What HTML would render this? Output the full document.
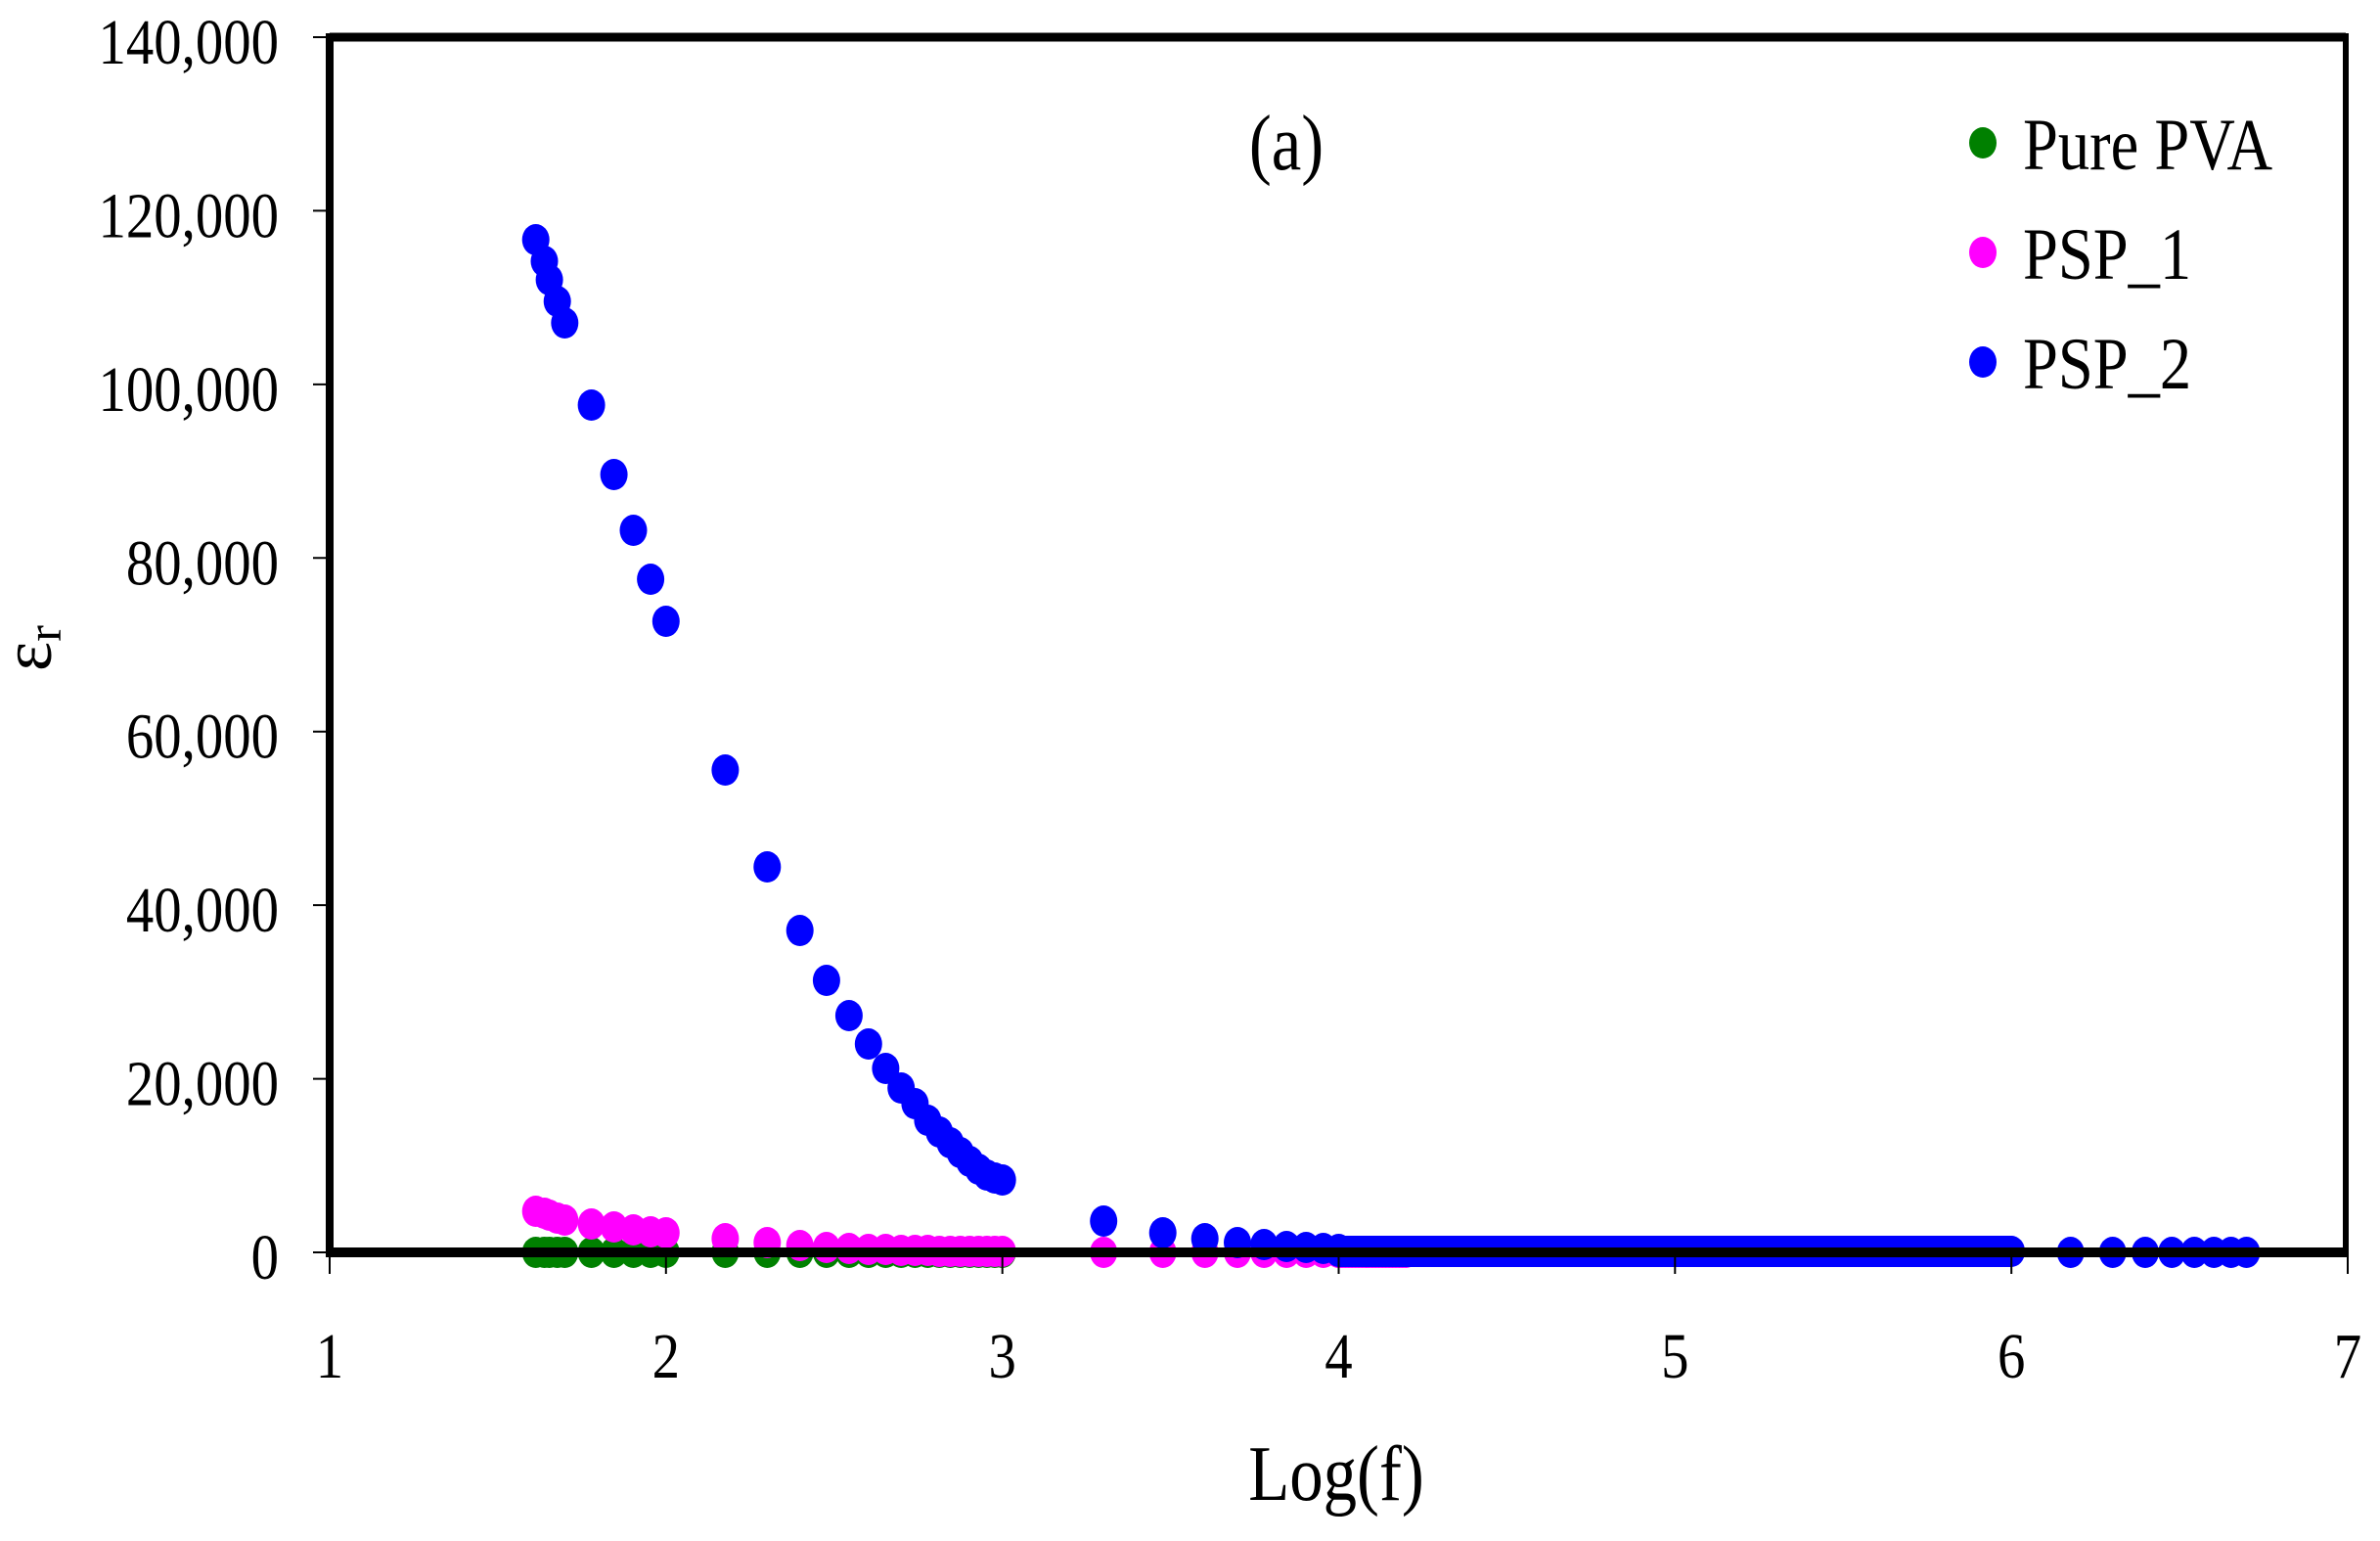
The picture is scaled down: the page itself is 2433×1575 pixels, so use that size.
<!DOCTYPE html>
<html><head><meta charset="utf-8"><style>
html,body{margin:0;padding:0;background:#fff;}
svg{display:block;}
text{font-family:"Liberation Serif","DejaVu Serif",serif;fill:#000;}
</style></head><body>
<svg id="s" width="2433" height="1575" viewBox="0 0 2433 1575" xmlns="http://www.w3.org/2000/svg">
<rect width="2433" height="1575" fill="#fff"/>
<g id="pts"></g>
<line x1="337" y1="38" x2="2398" y2="38" stroke="#000" stroke-width="9"/>
<line x1="337" y1="34" x2="337" y2="1285" stroke="#000" stroke-width="8"/>
<line x1="2398" y1="34" x2="2398" y2="1285" stroke="#000" stroke-width="6"/>
<line x1="333" y1="1280" x2="2401" y2="1280" stroke="#000" stroke-width="10"/>
<g stroke="#000" stroke-width="2">
<line x1="320" y1="38" x2="337" y2="38"/><line x1="320" y1="215.4" x2="337" y2="215.4"/>
<line x1="320" y1="392.9" x2="337" y2="392.9"/><line x1="320" y1="570.3" x2="337" y2="570.3"/>
<line x1="320" y1="747.7" x2="337" y2="747.7"/><line x1="320" y1="925.1" x2="337" y2="925.1"/>
<line x1="320" y1="1102.6" x2="337" y2="1102.6"/><line x1="320" y1="1280" x2="337" y2="1280"/>
<line x1="337" y1="1280" x2="337" y2="1302"/><line x1="680.8" y1="1280" x2="680.8" y2="1302"/>
<line x1="1024.7" y1="1280" x2="1024.7" y2="1302"/><line x1="1368.5" y1="1280" x2="1368.5" y2="1302"/>
<line x1="1712.3" y1="1280" x2="1712.3" y2="1302"/><line x1="2056.2" y1="1280" x2="2056.2" y2="1302"/>
<line x1="2400" y1="1280" x2="2400" y2="1302"/>
</g>
<g font-size="66" text-anchor="end">
<text transform="translate(285,65) scale(0.86,1)">140,000</text>
<text transform="translate(285,242.4) scale(0.86,1)">120,000</text>
<text transform="translate(285,419.9) scale(0.86,1)">100,000</text>
<text transform="translate(285,597.3) scale(0.86,1)">80,000</text>
<text transform="translate(285,774.7) scale(0.86,1)">60,000</text>
<text transform="translate(285,952.1) scale(0.86,1)">40,000</text>
<text transform="translate(285,1129.6) scale(0.86,1)">20,000</text>
<text transform="translate(285,1307) scale(0.86,1)">0</text>
</g>
<g font-size="66" text-anchor="middle">
<text transform="translate(337,1408) scale(0.86,1)">1</text>
<text transform="translate(680.8,1408) scale(0.86,1)">2</text>
<text transform="translate(1024.7,1408) scale(0.86,1)">3</text>
<text transform="translate(1368.5,1408) scale(0.86,1)">4</text>
<text transform="translate(1712.3,1408) scale(0.86,1)">5</text>
<text transform="translate(2056.2,1408) scale(0.86,1)">6</text>
<text transform="translate(2400,1408) scale(0.86,1)">7</text>
</g>
<text font-size="80" text-anchor="middle" transform="translate(1366,1533) scale(0.86,1)">Log(f)</text>
<text font-size="80" text-anchor="middle" transform="translate(1315,173) scale(0.86,1)">(a)</text>
<text font-size="72" transform="translate(52,686) rotate(-90)">ε<tspan font-size="50" dy="10">r</tspan></text>
<ellipse cx="2027" cy="146" rx="14" ry="16" fill="#008000"/>
<ellipse cx="2027" cy="258" rx="14" ry="16" fill="#ff00ff"/>
<ellipse cx="2027" cy="370" rx="14" ry="16" fill="#0000ff"/>
<g font-size="75">
<text transform="translate(2068,173) scale(0.86,1)">Pure PVA</text>
<text transform="translate(2068,285) scale(0.86,1)">PSP_1</text>
<text transform="translate(2068,397) scale(0.86,1)">PSP_2</text>
</g>
</svg>
<script>
(function(){
var g=document.getElementById('pts');
function X(l){return 337+(l-1)*343.83;}
var NS='http://www.w3.org/2000/svg';
function dot(l,y,c){var e=document.createElementNS(NS,'ellipse');e.setAttribute('cx',X(l).toFixed(1));e.setAttribute('cy',y.toFixed(1));e.setAttribute('rx',14);e.setAttribute('ry',16);e.setAttribute('fill',c);g.appendChild(e);}
var low=[41,43.5,45,47.5,50,60,70,80,90,100];
var f1=low.slice();for(var f=150;f<=1000;f+=50)f1.push(f);
var f2=[];for(var f=2000;f<=10000;f+=1000)f2.push(f);
var f4=[1.5e6,2e6,2.5e6,3e6,3.5e6,4e6,4.5e6,5e6];
var L=Math.log10;
f1.forEach(function(f){dot(L(f),1280,'#008000');});
var py=[1238,1240,1242,1245,1247,1251,1254,1257,1259,1260,1266,1270,1273,1275,1276,1277,1277,1278,1278,1278,1279,1279,1279,1279,1279,1279,1279,1279];
f1.forEach(function(f,i){dot(L(f),py[i]||1279,'#ff00ff');});
f2.forEach(function(f){dot(L(f),1280,'#ff00ff');});
for(var l=4.0;l<=4.2;l+=0.01)dot(l,1280,'#ff00ff');
var by=[245,267,286,308,330,414,485,542,592,635,787,886,951,1002,1038,1067,1092,1112,1128,1145,1157,1168,1178,1187,1195,1201,1204,1206];
f1.forEach(function(f,i){dot(L(f),by[i],'#0000ff');});
var by2=[1248,1260,1266,1270,1272,1274,1275,1276,1277];
f2.forEach(function(f,i){dot(L(f),by2[i],'#0000ff');});
for(var l=4.0;l<=6.0001;l+=0.004)dot(l,1279,'#0000ff');
f4.forEach(function(f){dot(L(f),1280,'#0000ff');});
})();
</script>
</body></html>
